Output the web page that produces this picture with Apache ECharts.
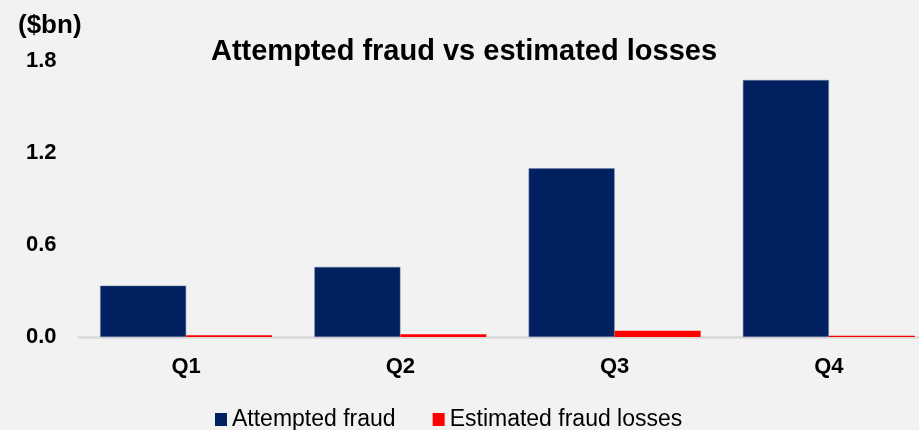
<!DOCTYPE html>
<html><head><meta charset="utf-8">
<script src="https://cdn.jsdelivr.net/npm/echarts@6/dist/echarts.min.js"></script>
<style>html,body{margin:0;padding:0;background:#f2f2f2}#c{width:919px;height:430px}</style>
</head><body><div id="c"></div>
<script>
const categories = ['Q1', 'Q2', 'Q3', 'Q4'];
const attemptedFraud = [0.335, 0.457, 1.10, 1.676];
const estimatedLosses = [0.012, 0.018, 0.04, 0.008];
const yTicks = [0, 1.8, 0.6];
const chart = echarts.init(document.getElementById('c'));
const F = '"Liberation Sans", Arial, sans-serif';
chart.setOption({
  backgroundColor: '#f2f2f2',
  animation: false,
  title: [
    {text: 'Attempted fraud vs estimated losses', left: 464, top: 37, textAlign: 'center', padding: 0,
     textStyle: {fontFamily: F, fontWeight: 'bold', fontSize: 29, color: '#000'}},
    {text: '($bn)', left: 18, top: 13, padding: 0,
     textStyle: {fontFamily: F, fontWeight: 'bold', fontSize: 26, color: '#000'}}
  ],
  legend: {
    left: 215, top: 408, padding: 0, icon: 'rect', itemWidth: 12, itemHeight: 13, itemGap: 37,
    itemStyle: {borderWidth: 0},
    textStyle: {fontFamily: F, fontSize: 23, color: '#000'},
    data: ['Attempted fraud', 'Estimated fraud losses']
  },
  grid: {left: 79, width: 857, top: 61, bottom: 93, containLabel: false, outerBoundsMode: 'none'},
  xAxis: {
    type: 'category', data: categories,
    axisLine: {lineStyle: {color: '#d9d9d9', width: 2.5}},
    axisTick: {show: false},
    axisLabel: {fontFamily: F, fontWeight: 'bold', fontSize: 22, color: '#000', margin: 19}
  },
  yAxis: {
    type: 'value', min: yTicks[0], max: yTicks[1], interval: yTicks[2],
    axisLine: {show: false}, axisTick: {show: false}, splitLine: {show: false},
    axisLabel: {fontFamily: F, fontWeight: 'bold', fontSize: 22, color: '#000', align: 'left', margin: 53,
      formatter: v => v.toFixed(1)}
  },
  series: [
    {name: 'Attempted fraud', type: 'bar', data: attemptedFraud, barWidth: 86, barGap: '0%',
     itemStyle: {color: '#002060', borderColor: '#6f7fa0', borderWidth: 0.5}},
    {name: 'Estimated fraud losses', type: 'bar', data: estimatedLosses, barWidth: 86,
     itemStyle: {color: '#ff0000'}}
  ]
});
</script></body></html>
